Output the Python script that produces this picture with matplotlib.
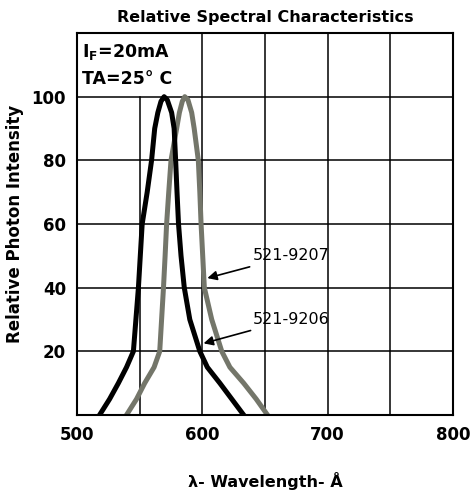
import matplotlib.pyplot as plt

plt.rcParams['font.family'] = ['DejaVu Sans']
plt.rcParams['mathtext.fontset'] = 'dejavusans'
plt.rcParams['mathtext.default'] = 'bf'

# 521-9206 (black)
wl_9206 = [518, 526, 533, 539.5, 545, 547, 549, 550.5, 552, 556, 559.5, 562, 564.5, 567, 569.5,
           572, 575.5, 577.5, 578.7, 579.8, 581, 583, 585.6, 590, 598, 604, 614, 623.5, 633]
int_9206 = [0, 5, 10, 15, 20, 30, 40, 50, 60, 70, 80, 90, 95, 98.5, 100,
            99, 95, 90, 80, 70, 60, 50, 40, 30, 20, 15, 10, 5, 0]

# 521-9207 (grey)
wl_9207 = [539.5, 547.5, 554, 561.5, 566, 567.5, 569, 570.3, 571.5, 573.2, 575, 579.5, 581.7, 584, 586,
           588.5, 591.5, 593.5, 596.8, 598, 599, 600.3, 601.6, 607.5, 615.5, 622, 633, 643, 652]
int_9207 = [0, 5, 10, 15, 20, 30, 40, 50, 60, 70, 80, 90, 95, 98.5, 100,
            99, 95, 90, 80, 70, 60, 50, 40, 30, 20, 15, 10, 5, 0]

x_ticks = [500, 600, 700, 800]
y_ticks = [20, 40, 60, 80, 100]

fig = plt.figure(figsize=(4.72, 4.94), dpi=100)
ax = fig.add_axes([77/472, 1-415/494, 376/472, 382/494])
ax.set_xlim(500, 800)
ax.set_ylim(0, 120)

# grid (the 550 line stops under the condition box)
for x in [550, 600, 650, 700, 750]:
    top = 100 if x == 550 else 120
    ax.plot([x, x], [0, top], color='black', lw=1.1, zorder=1)
for y in [20, 40, 60, 80, 100]:
    ax.plot([500, 800], [y, y], color='black', lw=1.1, zorder=1)

ax.plot(wl_9207, int_9207, color='#74766a', lw=3.6, solid_joinstyle='round', zorder=2)
ax.plot(wl_9206, int_9206, color='black', lw=3.6, solid_joinstyle='round', zorder=3)

for s in ax.spines.values():
    s.set_linewidth(1.5)

ax.set_xticks(x_ticks)
ax.set_xticklabels([str(v) for v in x_ticks], fontsize=12, fontweight='bold')
ax.set_yticks(y_ticks)
ax.set_yticklabels([str(v) for v in y_ticks], fontsize=12, fontweight='bold')
ax.tick_params(length=0, pad=8)

ax.set_title('Relative Spectral Characteristics', fontsize=11.5, fontweight='bold', pad=8)
ax.set_xlabel('λ- Wavelength- Å', fontsize=11.5, fontweight='bold', labelpad=20)
ax.set_ylabel('Relative Photon Intensity', fontsize=12, fontweight='bold', labelpad=5)

ax.text(504, 114, 'I$_F$=20mA', fontsize=12.5, fontweight='bold', va='center')
ax.text(504, 105.5, 'TA=25° C', fontsize=12.5, fontweight='bold', va='center')

ax.annotate('521-9207', xy=(604, 43), xytext=(640, 50), fontsize=11.5, va='center',
            arrowprops=dict(arrowstyle='-|>', color='black', lw=1.2, mutation_scale=14,
                            shrinkA=2, shrinkB=0))
ax.annotate('521-9206', xy=(601, 22.5), xytext=(640, 30), fontsize=11.5, va='center',
            arrowprops=dict(arrowstyle='-|>', color='black', lw=1.2, mutation_scale=14,
                            shrinkA=2, shrinkB=0))

fig.savefig('out.png', dpi=100)
